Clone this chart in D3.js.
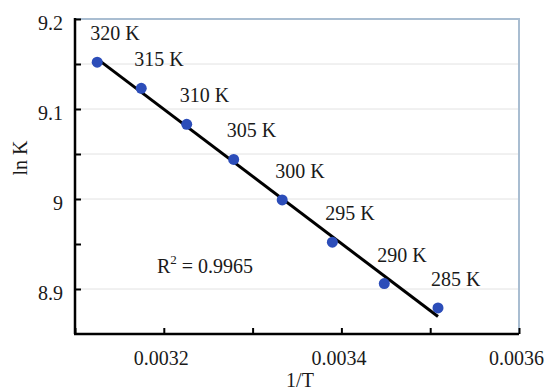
<!DOCTYPE html>
<html><head><meta charset="utf-8">
<script src="https://cdn.jsdelivr.net/npm/d3@7"></script>
<style>html,body{margin:0;padding:0;background:#fff;}svg{display:block;}</style>
</head><body>
<script>
const temps = [320, 315, 310, 305, 300, 295, 290, 285];
const lnK = [9.152, 9.123, 9.083, 9.044, 8.999, 8.952, 8.906, 8.879];
const pointLabels = ["320 K", "315 K", "310 K", "305 K", "300 K", "295 K", "290 K", "285 K"];
const xTickLabels = [0.0032, 0.0034, 0.0036];
const xTickMinor = [0.0031, 0.0032, 0.0033, 0.0034, 0.0035, 0.0036];
const yTickLabels = [9.2, 9.1, 9.0, 8.9];
const yTickMinor = [9.2, 9.15, 9.1, 9.05, 9.0, 8.95, 8.9];
const gridValues = [9.15, 9.1, 9.05, 9.0, 8.9];
const r2Text = "0.9965";

const W = 548, H = 392;
const font = "'Liberation Serif', 'Times New Roman', serif";
const fs = 20;
const textColor = "#1a1a1a";
const svg = d3.select("body").append("svg").attr("width", W).attr("height", H);

const x = d3.scaleLinear().domain([0.0031, 0.0036]).range([75, 519]);
const y = d3.scaleLinear().domain([8.85, 9.2]).range([334, 19]);

const data = temps.map((t, i) => ({ x: 1 / t, y: lnK[i], label: pointLabels[i] }));

// gridlines
svg.append("g").selectAll("line").data(gridValues).join("line")
  .attr("x1", x(0.0031)).attr("x2", x(0.0036))
  .attr("y1", d => y(d)).attr("y2", d => y(d))
  .attr("stroke", "#e2e2e2").attr("stroke-width", 1);

// top/right frame
svg.append("path")
  .attr("d", `M${x(0.0031)},${y(9.2)}H${x(0.0036)}V${y(8.85)}`)
  .attr("fill", "none").attr("stroke", "#a9bdd1").attr("stroke-width", 2);

// regression line (least squares)
const mx = d3.mean(data, d => d.x), my = d3.mean(data, d => d.y);
const sxy = d3.sum(data, d => (d.x - mx) * (d.y - my));
const sxx = d3.sum(data, d => (d.x - mx) ** 2);
const slope = sxy / sxx, icpt = my - slope * mx;
const xEnds = d3.extent(data, d => d.x);
svg.append("line")
  .attr("x1", x(xEnds[0])).attr("y1", y(icpt + slope * xEnds[0]))
  .attr("x2", x(xEnds[1])).attr("y2", y(icpt + slope * xEnds[1]))
  .attr("stroke", "#000").attr("stroke-width", 3);

// points
svg.append("g").selectAll("circle").data(data).join("circle")
  .attr("cx", d => x(d.x)).attr("cy", d => y(d.y)).attr("r", 5.5)
  .attr("fill", "#2c4db9");

// point labels
svg.append("g").selectAll("text").data(data).join("text")
  .attr("x", d => x(d.x) - 7).attr("y", d => y(d.y) - 22)
  .attr("font-family", font).attr("font-size", fs).attr("fill", textColor)
  .text(d => d.label);

// axes
const xAxis = d3.axisBottom(x).tickValues(xTickMinor).tickSize(-6).tickFormat(d => xTickLabels.some(v => Math.abs(v - d) < 1e-9) ? d.toFixed(4) : "").tickPadding(17);
const gx = svg.append("g").attr("transform", `translate(0,${y(8.85)})`).call(xAxis);
gx.select(".domain").attr("stroke", "#000").attr("stroke-width", 2.5).attr("d", `M${x(0.0031) - 1},0H${x(0.0036)}`);
gx.selectAll(".tick line").attr("stroke", "#000").attr("stroke-width", 2);
gx.selectAll(".tick text").attr("font-family", font).attr("font-size", fs).attr("fill", textColor).attr("dx", -3);

const yAxis = d3.axisLeft(y).tickValues(yTickMinor).tickSize(-6).tickFormat(d => yTickLabels.some(v => Math.abs(v - d) < 1e-9) ? (d === 9 ? "9" : d.toString()) : "").tickPadding(12);
const gy = svg.append("g").attr("transform", `translate(${x(0.0031)},0)`).call(yAxis);
gy.select(".domain").attr("stroke", "#000").attr("stroke-width", 2.5).attr("d", `M0,${y(9.2) - 1}V${y(8.85)}`);
gy.selectAll(".tick line").attr("stroke", "#000").attr("stroke-width", 2);
gy.selectAll(".tick text").attr("font-family", font).attr("font-size", fs).attr("fill", textColor).attr("dy", "0.5em");

// axis titles
svg.append("text").attr("x", 300).attr("y", 387).attr("text-anchor", "middle")
  .attr("font-family", font).attr("font-size", fs).attr("fill", textColor).text("1/T");
svg.append("text").attr("transform", "translate(27,158) rotate(-90)").attr("text-anchor", "middle")
  .attr("font-family", font).attr("font-size", fs).attr("fill", textColor).text("ln K");

// R² annotation
const r2 = svg.append("text").attr("x", 157).attr("y", 273)
  .attr("font-family", font).attr("font-size", fs).attr("fill", textColor);
r2.append("tspan").text("R");
r2.append("tspan").attr("dy", -9).attr("font-size", 13).text("2");
r2.append("tspan").attr("dy", 9).text(" = " + r2Text);
</script>
</body></html>
